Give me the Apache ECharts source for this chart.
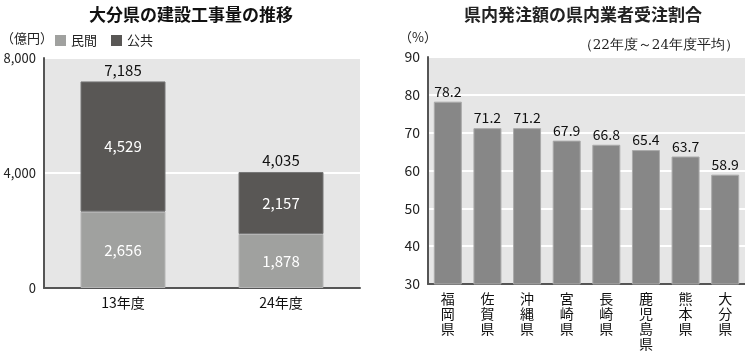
<!DOCTYPE html>
<html>
<head>
<meta charset="utf-8">
<script src="https://cdn.jsdelivr.net/npm/echarts@6/dist/echarts.min.js"></script>
<style>
  html, body { margin: 0; padding: 0; background: #fff; }
  #chart { width: 745px; height: 351px; }
</style>
</head>
<body>
<div id="chart"></div>
<script>
// 左: 大分県の建設工事量の推移（億円）
const years = ['13年度', '24年度']
const minkan = [2656, 1878]
const kokyo = [4529, 2157]
const totals = [7185, 4035]

// 右: 県内発注額の県内業者受注割合（%）
const prefs = ['福岡県', '佐賀県', '沖縄県', '宮崎県', '長崎県', '鹿児島県', '熊本県', '大分県']
const shares = [78.2, 71.2, 71.2, 67.9, 66.8, 65.4, 63.7, 58.9]

const FONT = '"Noto Sans CJK JP", "Noto Sans", sans-serif'
const fmt = v => Number(v).toLocaleString('en-US')

const chart = echarts.init(document.getElementById('chart'))
chart.setOption({
    animation: false,
    textStyle: {fontFamily: FONT},
    title: [
        {text: '大分県の建設工事量の推移', left: 186, top: 1, textAlign: 'center',
            textStyle: {fontSize: 17, fontWeight: 'bold', color: '#111', fontFamily: FONT}},
        {text: '県内発注額の県内業者受注割合', left: 578, top: 1, textAlign: 'center',
            textStyle: {fontSize: 17, fontWeight: 'bold', color: '#222', fontFamily: FONT}},
        {text: '（億円）', left: -4, top: 27, textStyle: {fontSize: 13, fontWeight: 'normal', color: '#222'}},
        {text: '（%）', left: 394, top: 26, textStyle: {fontSize: 13, fontWeight: 'normal', color: '#222'}},
        {text: '（22年度～24年度平均）', right: 1, top: 33,
            textStyle: {fontSize: 13.5, fontWeight: 'normal', color: '#222', fontFamily: '"DejaVu Serif", serif'}}
    ],
    legend: {
        left: 50, top: 29, itemWidth: 11, itemHeight: 11, itemGap: 14,
        icon: 'rect',
        itemStyle: {borderWidth: 0},
        textStyle: {fontSize: 13, color: '#222', fontFamily: FONT},
        data: ['民間', '公共']
    },
    grid: [
        {left: 44, top: 58, width: 316, height: 230, show: true, backgroundColor: '#e6e6e6', borderWidth: 0},
        {left: 428, top: 57, width: 318, height: 231, show: true, backgroundColor: '#e6e6e6', borderWidth: 0}
    ],
    xAxis: [
        {type: 'category', gridIndex: 0, data: years,
            axisLine: {lineStyle: {color: '#555', width: 2}}, axisTick: {show: false},
            axisLabel: {fontSize: 14, color: '#111', margin: 8}},
        {type: 'category', gridIndex: 1, data: prefs,
            axisLine: {lineStyle: {color: '#555', width: 2}}, axisTick: {show: false},
            axisLabel: {fontSize: 14, color: '#111', margin: 7, lineHeight: 15,
                formatter: v => v.split('').join('\n')}}
    ],
    yAxis: [
        {type: 'value', gridIndex: 0, min: 0, max: 8000, interval: 4000,
            axisLine: {show: true, lineStyle: {color: '#555', width: 2}}, axisTick: {show: false},
            splitLine: {lineStyle: {color: '#fff', width: 2}},
            axisLabel: {fontSize: 13, color: '#222', margin: 8, formatter: fmt}},
        {type: 'value', gridIndex: 1, min: 30, max: 90, interval: 10,
            axisLine: {show: true, lineStyle: {color: '#555', width: 2}}, axisTick: {show: false},
            splitLine: {lineStyle: {color: '#fff', width: 2}},
            axisLabel: {fontSize: 14, color: '#222', margin: 8}}
    ],
    series: [
        {name: '民間', type: 'bar', stack: 'a', xAxisIndex: 0, yAxisIndex: 0, data: minkan,
            barWidth: 85, itemStyle: {color: '#a0a19f', borderColor: '#b5b5b5', borderWidth: 1},
            label: {show: true, position: 'inside', color: '#fff', fontSize: 15, formatter: p => fmt(p.value)}},
        {name: '公共', type: 'bar', stack: 'a', xAxisIndex: 0, yAxisIndex: 0, data: kokyo,
            barWidth: 85, itemStyle: {color: '#595755', borderColor: '#777', borderWidth: 1},
            label: {show: true, position: 'inside', color: '#fff', fontSize: 15, formatter: p => fmt(p.value)}},
        {name: '合計', type: 'bar', stack: 'a', xAxisIndex: 0, yAxisIndex: 0, data: totals.map(() => 0),
            barWidth: 85, itemStyle: {color: 'transparent'},
            label: {show: true, position: 'top', color: '#111', fontSize: 15, distance: 4,
                formatter: p => fmt(totals[p.dataIndex])}},
        {name: '割合', type: 'bar', xAxisIndex: 1, yAxisIndex: 1, data: shares,
            barWidth: 28, itemStyle: {color: '#878787', borderColor: '#aaa', borderWidth: 1},
            label: {show: true, position: 'top', color: '#111', fontSize: 14, distance: 3,
                formatter: p => p.value.toFixed(1)}}
    ]
})
</script>
</body>
</html>
